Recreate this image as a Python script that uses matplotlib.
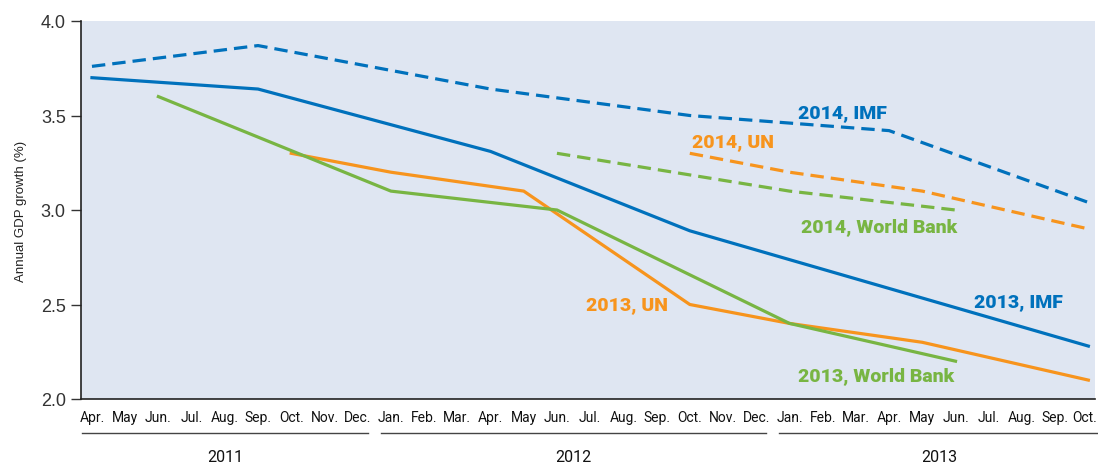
import matplotlib
matplotlib.use("Agg")
import matplotlib.pyplot as plt
from matplotlib import font_manager as fm
import matplotlib.transforms as mtransforms

# ---- data ----
months = ["Apr.", "May", "Jun.", "Jul.", "Aug.", "Sep.", "Oct.", "Nov.", "Dec.",
          "Jan.", "Feb.", "Mar.", "Apr.", "May", "Jun.", "Jul.", "Aug.", "Sep.", "Oct.", "Nov.", "Dec.",
          "Jan.", "Feb.", "Mar.", "Apr.", "May", "Jun.", "Jul.", "Aug.", "Sep.", "Oct."]
years = ["2011", "2012", "2013"]
year_month_counts = [9, 12, 10]

# x = month index (0 = Apr. 2011)
imf2014_x = [0, 5, 12, 18, 24, 30]
imf2014_y = [3.76, 3.87, 3.64, 3.50, 3.42, 3.04]

imf2013_x = [0, 5, 12, 18, 30]
imf2013_y = [3.70, 3.64, 3.31, 2.89, 2.28]

un2013_x = [6, 9, 13, 18, 21, 25, 30]
un2013_y = [3.30, 3.20, 3.10, 2.50, 2.40, 2.30, 2.10]

wb2013_x = [2, 9, 14, 21, 26]
wb2013_y = [3.60, 3.10, 3.00, 2.40, 2.20]

wb2014_x = [14, 21, 26]
wb2014_y = [3.30, 3.10, 3.00]

un2014_x = [18, 21, 25, 30]
un2014_y = [3.30, 3.20, 3.10, 2.90]

yticks = [2.0, 2.5, 3.0, 3.5, 4.0]

# ---- style ----
BLUE = "#0071bc"
ORANGE = "#f7941d"
GREEN = "#78b543"
BG = "#dfe6f2"

avail = {f.name for f in fm.fontManager.ttflist}
narrow = "Liberation Sans Narrow" if "Liberation Sans Narrow" in avail else "Roboto"
plt.rcParams["font.family"] = ["Liberation Sans", "DejaVu Sans"]

fig = plt.figure(figsize=(10.98, 4.64), dpi=100)
ax = fig.add_axes([81 / 1098, 1 - 400 / 464, (1095 - 81) / 1098, (400 - 22) / 464])
ax.set_facecolor(BG)

lw = 2.3
dash = (0, (4.2, 2.2))
ax.plot(imf2014_x, imf2014_y, color=BLUE, lw=lw, linestyle=dash, solid_joinstyle="round")
ax.plot(imf2013_x, imf2013_y, color=BLUE, lw=lw, solid_joinstyle="round")
ax.plot(un2013_x, un2013_y, color=ORANGE, lw=lw, solid_joinstyle="round")
ax.plot(wb2013_x, wb2013_y, color=GREEN, lw=lw, solid_joinstyle="round")
ax.plot(wb2014_x, wb2014_y, color=GREEN, lw=lw, linestyle=dash)
ax.plot(un2014_x, un2014_y, color=ORANGE, lw=lw, linestyle=dash)

ax.set_xlim(-0.33, 30.2)
ax.set_ylim(2.0, 4.0)
ax.set_yticks(yticks)
ax.set_yticklabels([f"{v:.1f}" for v in yticks], fontsize=13, color="#333333")
ax.tick_params(axis="y", length=7, width=1, color="#333333", pad=4)
ax.set_xticks([])
for s in ["top", "right"]:
    ax.spines[s].set_visible(False)
for s in ["left", "bottom"]:
    ax.spines[s].set_color("#222222")
    ax.spines[s].set_linewidth(1.2)

ax.set_ylabel("Annual GDP growth (%)", fontsize=9.5, color="#222222", labelpad=10)

# series labels
lab_kw = dict(fontsize=14, fontweight="heavy", family=[narrow, "DejaVu Sans"], ha="center", va="center")
ax.text(22.6, 3.52, "2014, IMF", color=BLUE, **lab_kw)
ax.text(19.3, 3.365, "2014, UN", color=ORANGE, **lab_kw)
ax.text(23.7, 2.915, "2014, World Bank", color=GREEN, **lab_kw)
ax.text(16.1, 2.50, "2013, UN", color=ORANGE, **lab_kw)
ax.text(27.9, 2.52, "2013, IMF", color=BLUE, **lab_kw)
ax.text(23.6, 2.125, "2013, World Bank", color=GREEN, **lab_kw)

# month labels and year groups
trans = mtransforms.blended_transform_factory(ax.transData, fig.transFigure)
n_m = len(months)
for i, m in enumerate(months):
    xi = i - 0.12 if i == n_m - 1 else i
    ax.text(xi, 1 - 418 / 464, m, transform=trans, ha="center", va="center",
            fontsize=10, family=[narrow, "DejaVu Sans"], color="#111111")

start = 0
for yr, n in zip(years, year_month_counts):
    x0 = start - 0.3
    x1 = start + n - 1 + 0.3
    yline = 1 - 434 / 464
    ax.plot([x0, x1], [yline, yline], transform=trans, color="#444444", lw=1.0, clip_on=False)
    ax.text((x0 + x1) / 2, 1 - 458 / 464, yr, transform=trans, ha="center", va="center",
            fontsize=11.5, family=[narrow, "DejaVu Sans"], color="#111111")
    start += n

fig.savefig("out.png", dpi=100)
